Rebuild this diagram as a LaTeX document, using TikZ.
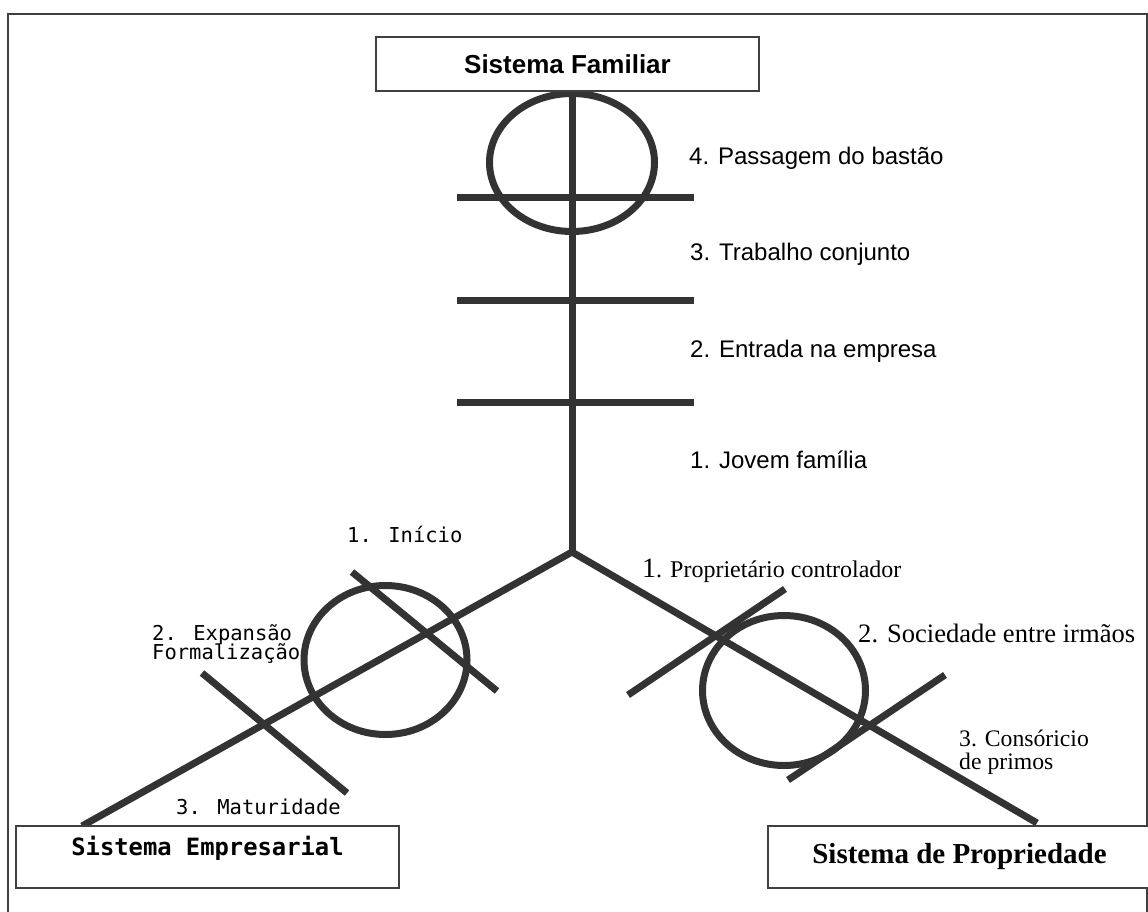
\documentclass[tikz,border=0pt]{standalone}
\usepackage{fontspec}
\setmainfont{Liberation Serif}
\newfontfamily\arialfont{Liberation Sans}
\newfontfamily\monofont{DejaVu Sans Mono}
\newfontfamily\seriffont{Liberation Serif}
\definecolor{ink}{HTML}{333333}
\definecolor{edge}{HTML}{404040}

\begin{document}
\begin{tikzpicture}[x=1pt,y=-1pt,
  bar/.style={draw=ink,line width=7pt},
  ring/.style={draw=ink,line width=7pt},
  sysbox/.style={draw=edge,line width=1.6pt,fill=white,inner sep=0pt,
    minimum width=383pt,minimum height=62pt},
  lbl/.style={anchor=base west,inner sep=0pt},
  sanslbl/.style={lbl,font=\arialfont\fontsize{24}{28}\selectfont},
  monolbl/.style={lbl,font=\monofont\fontsize{20.5}{22}\selectfont},
  seriflbl/.style={lbl,font=\seriffont\fontsize{24}{28}\selectfont}]

\useasboundingbox (0,0) rectangle (1148,912);
\clip (0,0) rectangle (1148,912);

% outer frame
\draw[draw=edge,line width=2pt] (8,14) rectangle (1147,930);

% hub of the three systems
\coordinate (hub) at (572,552);
\coordinate (empend) at (82,826);
\coordinate (propend) at (1037,823);

% system boxes (placed first so connectors can refer to them)
\node[sysbox,minimum height=54pt,text height=20pt,text depth=0pt,
  font=\arialfont\bfseries\fontsize{26}{30}\selectfont] (fam) at (567.5,64) {Sistema Familiar};
\node[sysbox,text height=14pt,text depth=18pt,
  font=\monofont\bfseries\fontsize{23.8}{26}\selectfont] (emp) at (207.5,857) {Sistema Empresarial};
\node[sysbox,text height=20pt,text depth=8pt,
  font=\seriffont\bfseries\fontsize{29}{32}\selectfont] (prop) at (959.5,857) {Sistema de Propriedade};

% family axis
\draw[bar] (fam.south -| hub) -- (hub);
\draw[bar] (457,198) -- (694,198);
\draw[bar] (457,300) -- (694,300);
\draw[bar] (457,402) -- (694,402);
\draw[ring] (572,162.5) ellipse [x radius=82.5, y radius=69];

% business axis
\draw[bar] (hub) -- (empend);
\draw[bar] (352,572) -- (497,691);
\draw[bar] (202,673) -- (347,793);
\draw[ring] (385.5,660) ellipse [x radius=81.5, y radius=74.5];

% ownership axis
\draw[bar] (hub) -- (propend);
\draw[bar] (628,695) -- (785,589);
\draw[bar] (788,780) -- (945,675);
\draw[ring] (784,690.5) ellipse [x radius=81.5, y radius=75];

% redraw boxes on top of the axes
\node[sysbox,minimum height=54pt,text height=20pt,text depth=0pt,
  font=\arialfont\bfseries\fontsize{26}{30}\selectfont] at (fam) {Sistema Familiar};
\node[sysbox,text height=14pt,text depth=18pt,
  font=\monofont\bfseries\fontsize{23.8}{26}\selectfont] at (emp) {Sistema Empresarial};
\node[sysbox,text height=20pt,text depth=8pt,
  font=\seriffont\bfseries\fontsize{29}{32}\selectfont] at (prop) {Sistema de Propriedade};

% family stages
\node[sanslbl] (f4) at (689,165) {4. Passagem do bastão};
\node[sanslbl] (f3) at (690,260) {3. Trabalho conjunto};
\node[sanslbl] (f2) at (690,357) {2. Entrada na empresa};
\node[sanslbl] (f1) at (690,468) {1. Jovem família};

% business stages
\node[monolbl] (b1) at (347,542) {1. Início};
\node[monolbl] (b2a) at (152,640) {2. Expansão};
\node[monolbl] (b2b) at (152,659) {Formalização};
\node[monolbl] (b3) at (176,814) {3. Maturidade};

% ownership stages
\node[seriflbl] (o1) at (642,577) {{\fontsize{28}{30}\selectfont 1}. Proprietário controlador};
\node[seriflbl,font=\seriffont\fontsize{26.6}{30}\selectfont] (o2) at (858,642) {2. Sociedade entre irmãos};
\node[seriflbl,font=\seriffont\fontsize{23.7}{28}\selectfont] (o3a) at (959,746) {3. Consóricio};
\node[seriflbl,font=\seriffont\fontsize{23.7}{28}\selectfont] (o3b) at (959,769) {de primos};
\end{tikzpicture}
\end{document}
